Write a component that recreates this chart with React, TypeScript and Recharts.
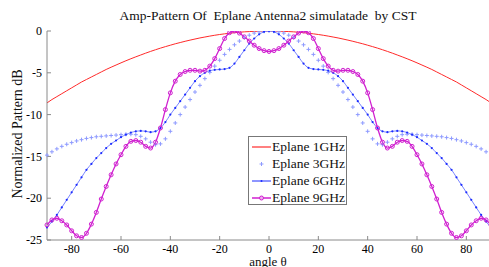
import { LineChart, Line, XAxis, YAxis, Legend } from "recharts";

const FONT = '"Liberation Serif", "Times New Roman", Tinos, "DejaVu Serif", serif';

// the pattern is symmetric about 0 deg, so values are read for 0..90 and mirrored
const HALF_ANGLES = [
    0, 2, 4, 6, 8, 10, 12, 14, 16, 18, 20, 22, 24, 26, 28, 30, 32, 34, 36, 38, 40, 42, 44,
    46, 48, 50, 52, 54, 56, 58, 60, 62, 64, 66, 68, 70, 72, 74, 76, 78, 80, 82, 84, 86, 88, 90,
];

const EPLANE_1GHZ = [
    0, 0, -0.02, -0.04, -0.07, -0.1, -0.15, -0.2, -0.27, -0.34, -0.42, -0.51, -0.61, -0.72,
    -0.83, -0.96, -1.09, -1.23, -1.38, -1.53, -1.7, -1.87, -2.05, -2.24, -2.44, -2.65, -2.87,
    -3.09, -3.32, -3.56, -3.81, -4.07, -4.33, -4.6, -4.9, -5.2, -5.5, -5.8, -6.1, -6.45, -6.8,
    -7.15, -7.5, -7.85, -8.2, -8.6,
];

const EPLANE_3GHZ = [
    0, -0.03, -0.1, -0.25, -0.5, -0.8, -1.2, -1.65, -2.2, -2.8, -3.5, -4.2, -4.95, -5.7, -6.5,
    -7.3, -8.2, -9.1, -10.0, -11.0, -12.0, -12.9, -13.5, -13.6, -13.3, -12.9, -12.6, -12.4,
    -12.35, -12.35, -12.4, -12.45, -12.5, -12.55, -12.6, -12.65, -12.75, -12.85, -13.0, -13.15,
    -13.35, -13.55, -13.8, -14.1, -14.45, -14.85,
];

const EPLANE_6GHZ = [
    0, -0.1, -0.4, -0.9, -1.5, -2.3, -3.1, -3.9, -4.4, -4.55, -4.6, -4.65, -4.75, -5.0, -5.4,
    -6.0, -6.8, -7.6, -8.4, -9.2, -10.0, -10.9, -11.6, -12.0, -12.1, -12.0, -11.95, -12.0,
    -12.15, -12.4, -12.7, -13.1, -13.5, -14.0, -14.6, -15.2, -15.9, -16.6, -17.5, -18.4, -19.3,
    -20.2, -21.1, -22.0, -22.8, -23.5,
];

const EPLANE_9GHZ = [
    -2.45, -2.35, -2.1, -1.7, -1.2, -0.7, -0.25, 0, -0.2, -0.9, -2.1, -3.3, -4.2, -4.7, -4.8,
    -4.7, -4.7, -4.85, -5.2, -6.0, -7.4, -9.4, -11.6, -13.3, -14.0, -13.8, -13.3, -13.1, -13.2,
    -13.8, -14.8, -15.9, -17.2, -18.6, -20.1, -21.7, -23.1, -24.2, -24.7, -24.5, -23.9, -23.2,
    -22.7, -22.4, -22.6, -23.2,
];

const X_TICKS = [-80, -60, -40, -20, 0, 20, 40, 60, 80];
const Y_TICKS = [-25, -20, -15, -10, -5, 0];

const SERIES_NAMES = ["Eplane 1GHz", "Eplane 3GHz", "Eplane 6GHz", "Eplane 9GHz"];

const mirror = (vals: number[]) => [...vals.slice(1).reverse(), ...vals];
const angles = [...HALF_ANGLES.slice(1).reverse().map((a) => -a), ...HALF_ANGLES];
const f1 = mirror(EPLANE_1GHZ);
const f3 = mirror(EPLANE_3GHZ);
const f6 = mirror(EPLANE_6GHZ);
const f9 = mirror(EPLANE_9GHZ);

const data = angles.map((angle, i) => ({
    angle,
    f1: f1[i],
    f3: f3[i],
    f6: f6[i],
    f9: f9[i],
}));

const RED = "#ff2a2a";
const LIGHT_BLUE = "#8e9aff";
const BLUE = "#1c2cff";
const MAGENTA = "#d020d0";
const AXIS = "#8a8a8a";

const tickStyle = { fontSize: 12, fill: "#000", fontFamily: FONT };

const PlusDot = (props: any) => {
    const { cx, cy, index } = props;
    if (cx == null || cy == null) return <g key={`p${index}`} />;
    return (
        <path
            key={`p${index}`}
            d={`M${cx - 2},${cy}h4M${cx},${cy - 2}v4`}
            stroke={LIGHT_BLUE}
            strokeWidth={1}
        />
    );
};

const LegendBox = () => {
    const samples = [
        <line key="a" x1={0} y1={5} x2={19} y2={5} stroke="#ff8080" strokeWidth={2} />,
        <path key="b" d="M9.5,3v4M7.5,5h4" stroke={LIGHT_BLUE} strokeWidth={1} />,
        <g key="c">
            <line x1={0} y1={5} x2={19} y2={5} stroke={BLUE} strokeWidth={1} />
            <circle cx={9.5} cy={5} r={1} fill={BLUE} />
        </g>,
        <g key="d">
            <line x1={0} y1={5} x2={19} y2={5} stroke={MAGENTA} strokeWidth={1.5} />
            <circle cx={9.5} cy={5} r={2} fill="#f0b0f0" stroke={MAGENTA} />
        </g>,
    ];
    return (
        <div
            style={{
                boxSizing: "border-box",
                width: 99,
                height: 69,
                border: "1px solid #777",
                background: "#fff",
                paddingTop: 1,
                fontFamily: FONT,
                fontSize: 13.5,
                color: "#111",
            }}
        >
            {SERIES_NAMES.map((name, i) => (
                <div
                    key={name}
                    style={{ height: 17, lineHeight: "17px", display: "flex", alignItems: "center" }}
                >
                    <svg width={19} height={10} style={{ marginLeft: 3, marginRight: 1 }}>
                        {samples[i]}
                    </svg>
                    <span>{name}</span>
                </div>
            ))}
        </div>
    );
};

export default function App() {
    return (
        <div
            style={{
                position: "absolute",
                left: 0,
                top: 0,
                width: 489,
                height: 267,
                overflow: "hidden",
                background: "#fff",
            }}
        >
            <LineChart
                width={491}
                height={267}
                data={data}
                margin={{ top: 31, right: 0, bottom: 0, left: 0 }}
            >
                <XAxis
                    dataKey="angle"
                    type="number"
                    domain={[-90, 90]}
                    ticks={X_TICKS}
                    interval={0}
                    height={27}
                    stroke={AXIS}
                    tickSize={-4}
                    tickMargin={8}
                    tick={tickStyle}
                />
                <XAxis
                    xAxisId="top"
                    orientation="top"
                    dataKey="angle"
                    type="number"
                    domain={[-90, 90]}
                    ticks={X_TICKS}
                    interval={0}
                    height={0}
                    stroke={AXIS}
                    tickSize={-4}
                    tick={() => <g />}
                />
                <YAxis
                    type="number"
                    domain={[-25, 0]}
                    ticks={Y_TICKS}
                    interval={0}
                    width={47}
                    stroke={AXIS}
                    tickSize={-4}
                    tickMargin={9}
                    tick={tickStyle}
                    allowDataOverflow
                />
                <YAxis
                    yAxisId="right"
                    orientation="right"
                    type="number"
                    domain={[-25, 0]}
                    ticks={Y_TICKS}
                    interval={0}
                    width={0}
                    stroke={AXIS}
                    tickSize={-4}
                    tick={() => <g />}
                />
                <Line
                    name={SERIES_NAMES[0]}
                    dataKey="f1"
                    type="monotone"
                    stroke={RED}
                    strokeWidth={1}
                    dot={false}
                    isAnimationActive={false}
                />
                <Line
                    name={SERIES_NAMES[1]}
                    dataKey="f3"
                    type="monotone"
                    stroke="none"
                    strokeWidth={0}
                    dot={PlusDot}
                    isAnimationActive={false}
                />
                <Line
                    name={SERIES_NAMES[2]}
                    dataKey="f6"
                    type="monotone"
                    stroke="#5565ff"
                    strokeWidth={0.8}
                    dot={{ r: 1.1, fill: BLUE, stroke: "none" }}
                    isAnimationActive={false}
                />
                <Line
                    name={SERIES_NAMES[3]}
                    dataKey="f9"
                    type="monotone"
                    stroke={MAGENTA}
                    strokeWidth={1.3}
                    dot={{ r: 2, fill: "none", stroke: MAGENTA, strokeWidth: 1 }}
                    isAnimationActive={false}
                />
                <Legend
                    layout="vertical"
                    align="center"
                    verticalAlign="middle"
                    wrapperStyle={{ left: 248, top: 136, width: 99, height: 69 }}
                    content={() => <LegendBox />}
                />
            </LineChart>
            <svg
                width={489}
                height={267}
                style={{ position: "absolute", left: 0, top: 0, pointerEvents: "none" }}
            >
                <text
                    x={268}
                    y={20}
                    textAnchor="middle"
                    fontFamily={FONT}
                    fontSize={13.5}
                    fill="#111"
                    style={{ whiteSpace: "pre" }}
                >
                    Amp-Pattern Of  Eplane Antenna2 simulatade  by CST
                </text>
                <text
                    x={268}
                    y={266}
                    textAnchor="middle"
                    fontFamily={FONT}
                    fontSize={13}
                    fill="#111"
                >
                    angle θ
                </text>
                <text
                    transform="translate(22,134) rotate(-90)"
                    textAnchor="middle"
                    fontFamily={FONT}
                    fontSize={14}
                    fill="#111"
                >
                    Normalized Pattern dB
                </text>
            </svg>
        </div>
    );
}
